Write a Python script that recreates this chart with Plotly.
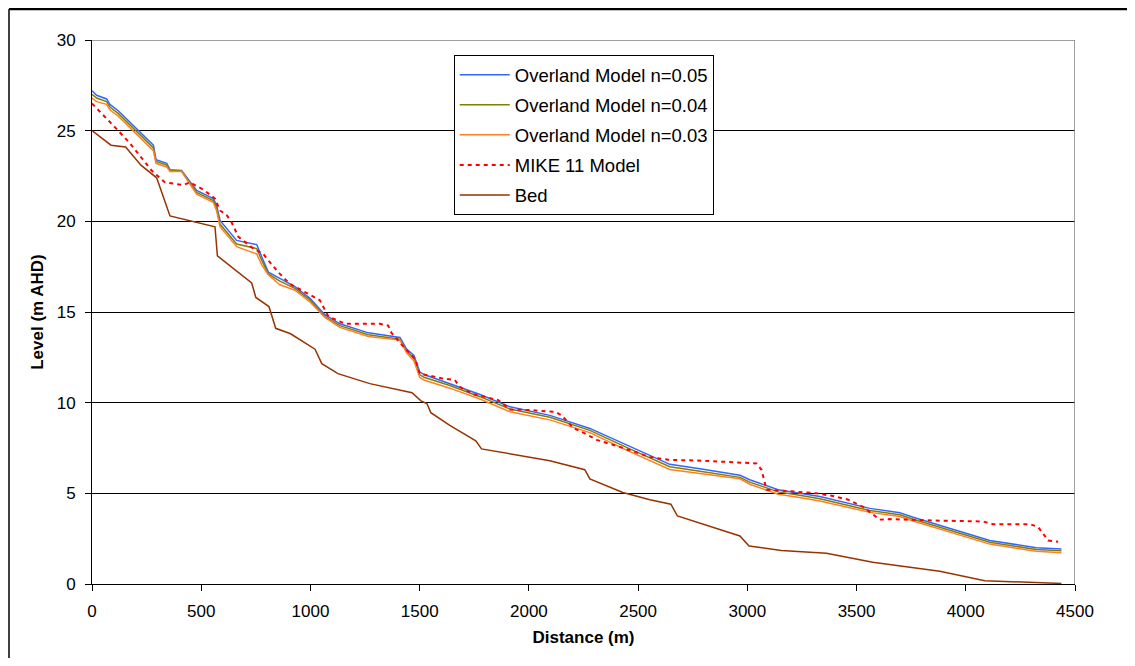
import plotly.graph_objects as go

# ---------------- data ----------------
x_overland = [0, 21, 67, 82, 120, 212, 281, 293, 342, 357, 410, 479, 555, 570, 586,
              662, 754, 777, 807, 860, 929, 998, 1066, 1135, 1265, 1410, 1440, 1474,
              1500, 1520, 1600, 1638, 1776, 1913, 2096, 2279, 2462, 2645, 2783, 2966,
              3011, 3141, 3225, 3332, 3561, 3698, 3759, 4110, 4323, 4438]
level_n005 = [27.2, 26.95, 26.75, 26.45, 26.1, 25.0, 24.2, 23.4, 23.2, 22.85, 22.8, 21.7,
              21.25, 20.9, 20.05, 18.95, 18.72, 18.05, 17.2, 16.85, 16.4, 15.75, 14.85,
              14.35, 13.85, 13.6, 12.95, 12.6, 11.7, 11.55, 11.2, 11.05, 10.45, 9.77, 9.3,
              8.58, 7.57, 6.6, 6.35, 6.0, 5.75, 5.2, 5.03, 4.82, 4.17, 3.93, 3.68, 2.4,
              2.0, 1.93]
level_n004 = [27.0, 26.8, 26.6, 26.3, 25.95, 24.85, 24.05, 23.3, 23.1, 22.8, 22.78, 21.6,
              21.15, 20.75, 19.85, 18.75, 18.5, 17.85, 17.1, 16.7, 16.3, 15.65, 14.75,
              14.25, 13.75, 13.5, 12.85, 12.45, 11.55, 11.4, 11.1, 10.95, 10.33, 9.65, 9.2,
              8.47, 7.45, 6.47, 6.22, 5.88, 5.62, 5.08, 4.92, 4.7, 4.05, 3.82, 3.57, 2.3,
              1.9, 1.83]
level_n003 = [26.8, 26.6, 26.45, 26.15, 25.8, 24.7, 23.9, 23.2, 23.0, 22.75, 22.75, 21.5,
              21.05, 20.6, 19.7, 18.6, 18.2, 17.6, 17.05, 16.5, 16.2, 15.55, 14.7, 14.15,
              13.65, 13.45, 12.75, 12.3, 11.4, 11.25, 10.95, 10.8, 10.2, 9.5, 9.05, 8.35,
              7.3, 6.32, 6.1, 5.8, 5.5, 4.95, 4.8, 4.58, 3.95, 3.72, 3.47, 2.2, 1.8, 1.73]

x_mike = [0, 29, 59, 90, 120, 174, 227, 273, 334, 418, 448, 510, 563, 586, 616, 639, 670,
          738, 784, 810, 860, 906, 1005, 1043, 1082, 1158, 1242, 1318, 1356, 1371, 1425,
          1480, 1500, 1600, 1661, 1684, 1745, 1860, 1913, 1989, 2119, 2150, 2203, 2249,
          2310, 2432, 2554, 2638, 2790, 3042, 3065, 3080, 3088, 3156, 3317, 3393, 3462,
          3530, 3606, 3652, 3774, 3850, 4079, 4125, 4293, 4331, 4377, 4423]
level_mike = [26.5, 26.15, 25.75, 25.4, 25.0, 24.3, 23.5, 22.8, 22.15, 22.0, 22.15, 21.75,
              21.25, 20.6, 20.35, 19.95, 19.15, 18.5, 18.2, 17.8, 17.1, 16.55, 15.9, 15.65,
              14.75, 14.35, 14.35, 14.35, 14.25, 13.85, 13.1, 12.4, 11.6, 11.35, 11.25,
              10.87, 10.47, 10.14, 9.62, 9.6, 9.5, 9.3, 8.6, 8.35, 7.95, 7.5, 7.0, 6.85,
              6.8, 6.65, 6.3, 5.55, 5.2, 5.15, 5.0, 4.85, 4.65, 4.25, 3.55, 3.58, 3.53, 3.5,
              3.45, 3.3, 3.3, 3.15, 2.4, 2.33]

x_bed = [0, 87, 154, 224, 296, 357, 563, 574, 731, 750, 810, 841, 909, 1021, 1052, 1126,
         1272, 1465, 1506, 1533, 1551, 1638, 1757, 1783, 2096, 2256, 2279, 2430, 2554,
         2650, 2680, 2966, 3008, 3156, 3362, 3574, 3881, 4087, 4438]
level_bed = [25.0, 24.2, 24.1, 23.1, 22.4, 20.3, 19.7, 18.1, 16.6, 15.8, 15.3, 14.1, 13.8,
             12.95, 12.15, 11.6, 11.05, 10.55, 10.1, 9.95, 9.45, 8.75, 7.9, 7.45, 6.8, 6.3,
             5.8, 5.05, 4.65, 4.4, 3.75, 2.65, 2.1, 1.85, 1.7, 1.2, 0.7, 0.18, 0.03]

x_ticks = [0, 500, 1000, 1500, 2000, 2500, 3000, 3500, 4000, 4500]
y_ticks = [0, 5, 10, 15, 20, 25, 30]

FONT = "Liberation Sans, Arial, sans-serif"

# page body has an 8px margin, so figure is sized to fit the 1135x666 window
W, H = 1119, 650
ML, MR, MT, MB = 84, 52, 32, 74
PW, PH = W - ML - MR, H - MT - MB

fig = go.Figure()
fig.add_trace(go.Scatter(x=x_overland, y=level_n005, mode="lines", name="Overland Model n=0.05",
                         legendgroup="a", line=dict(color="#3366FF", width=1.5)))
fig.add_trace(go.Scatter(x=x_overland, y=level_n004, mode="lines", name="Overland Model n=0.04",
                         legendgroup="b", line=dict(color="#808000", width=1.5)))
fig.add_trace(go.Scatter(x=x_overland, y=level_n003, mode="lines", name="Overland Model n=0.03",
                         legendgroup="c", line=dict(color="#FF7F27", width=1.5)))
fig.add_trace(go.Scatter(x=x_mike, y=level_mike, mode="lines", name="MIKE 11 Model",
                         legendgroup="d", line=dict(color="#FF0000", width=2, dash="4px,4px")))
fig.add_trace(go.Scatter(x=x_bed, y=level_bed, mode="lines", name="Bed",
                         legendgroup="e", line=dict(color="#993300", width=1.5)))

fig.update_layout(
    width=W, height=H,
    margin=dict(l=ML, r=MR, t=MT, b=MB),
    paper_bgcolor="white", plot_bgcolor="white",
    font=dict(family=FONT, size=17, color="black"),
    showlegend=True,
    legend=dict(x=0.368, y=0.972, xanchor="left", yanchor="top",
                bgcolor="white", bordercolor="black", borderwidth=1,
                font=dict(family=FONT, size=18.5, color="black"),
                tracegroupgap=3, itemwidth=50),
    xaxis=dict(range=[0, 4500], tickvals=x_ticks, ticks="outside", ticklen=6,
               tickcolor="black", showline=True, linecolor="black", linewidth=1,
               showgrid=False, zeroline=False, ticklabelstandoff=6,
               title=dict(text="<b>Distance (m)</b>", font=dict(size=17), standoff=10)),
    yaxis=dict(range=[0, 30], tickvals=y_ticks, ticks="outside", ticklen=6,
               tickcolor="black", showline=True, linecolor="black", linewidth=1,
               showgrid=True, gridcolor="black", gridwidth=1, zeroline=False,
               ticklabelstandoff=6,
               title=dict(text="<b>Level (m AHD)</b>", font=dict(size=17), standoff=8)),
)

# plot-area right edge and top edge in grey
fig.add_shape(type="line", xref="x", yref="y", x0=4500, x1=4500, y0=0, y1=30,
              line=dict(color="#808080", width=1.5), layer="above")
fig.add_shape(type="line", xref="x", yref="y", x0=0, x1=4500, y0=30, y1=30,
              line=dict(color="#808080", width=1.5), layer="above")
# outer chart border (top and left visible)
top = (PH + MT - 1) / PH
left = -(ML - 1) / PW
fig.add_shape(type="line", xref="paper", yref="paper", x0=left, x1=1.2, y0=top, y1=top,
              line=dict(color="black", width=2.5))
fig.add_shape(type="line", xref="paper", yref="paper", x0=left, x1=left, y0=-0.3, y1=top,
              line=dict(color="black", width=1.5))

fig.write_html("out.html")
